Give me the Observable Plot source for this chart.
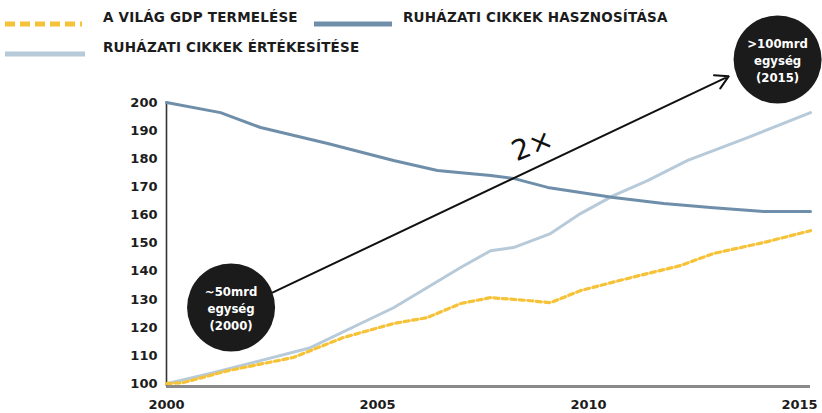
<!DOCTYPE html>
<html><head><meta charset="utf-8">
<script src="https://cdn.jsdelivr.net/npm/d3@7"></script>
<script src="https://cdn.jsdelivr.net/npm/@observablehq/plot@0.6"></script>
<style>
body{margin:0;background:#fff;font-family:"DejaVu Sans",sans-serif;}
#wrap{position:relative;width:822px;height:413px;overflow:hidden;}
#legend{position:absolute;left:0;top:0;width:822px;height:60px;}
.sw{position:absolute;}
.lt{position:absolute;font-family:"DejaVu Sans",sans-serif;font-weight:700;font-size:13.5px;letter-spacing:0.2px;color:#1c1c1c;line-height:18px;white-space:nowrap;}
</style></head><body>
<div id="wrap"><div id="chart"></div><div id="legend"></div></div>
<script>
// ---- data ----
const gdpYears   = [2000, 2000.4, 2001.45, 2003.0, 2004.19, 2005.38, 2006.18, 2006.97, 2007.68, 2008.63, 2009.1, 2009.81, 2011.0, 2012.18, 2012.96, 2014.15, 2015.26];
const gdpValues  = [100, 100.4, 104.6, 109.3, 116.4, 121.4, 123.5, 128.5, 130.6, 129.5, 128.8, 133.1, 137.7, 142.0, 146.3, 150.2, 154.4];
const useYears   = [2000, 2001.28, 2002.23, 2003.82, 2005.38, 2006.42, 2006.73, 2007.68, 2008.22, 2009.03, 2010.59, 2011.78, 2012.96, 2014.15, 2015.26];
const useValues  = [200, 196.4, 191.1, 185.4, 179.4, 175.8, 175.4, 174.0, 173.0, 169.8, 166.2, 164.1, 162.6, 161.2, 161.2];
const salesYears = [2000, 2001.04, 2002.23, 2003.41, 2004.6, 2005.38, 2006.18, 2006.97, 2007.68, 2008.22, 2009.1, 2009.81, 2010.59, 2011.4, 2012.35, 2013.77, 2015.26];
const salesValues= [100, 103.6, 108.2, 112.8, 121.4, 127.0, 134.2, 141.3, 147.3, 148.4, 153.4, 160.5, 166.9, 172.2, 179.4, 187.5, 196.4];

const seriesNames  = ["A VILÁG GDP TERMELÉSE", "RUHÁZATI CIKKEK HASZNOSÍTÁSA", "RUHÁZATI CIKKEK ÉRTÉKESÍTÉSE"];
const seriesColors = ["#f6c238", "#6f8ea9", "#b7cad9"];

const yTicks = [100, 110, 120, 130, 140, 150, 160, 170, 180, 190, 200];
const xTicks = [2000, 2005, 2010, 2015];

const bubbleYears  = [2001.53, 2014.48];
const bubbleValues = [127.1, 215.3];
const bubbleLabels = ["~50mrd\negység\n(2000)", ">100mrd\negység\n(2015)"];

const arrowFrom = [2002.51, 132.4];
const arrowTo   = [2013.32, 209.3];
const noteText  = "2×";
const notePos   = [2008.67, 184.7];

// ---- build ----
const toRows = (xs, ys) => xs.map((x, i) => ({x, y: ys[i]}));
const gdp = toRows(gdpYears, gdpValues);
const use = toRows(useYears, useValues);
const sales = toRows(salesYears, salesValues);
const bubbles = bubbleYears.map((x, i) => ({x, y: bubbleValues[i], label: bubbleLabels[i]}));

const chart = Plot.plot({
  width: 822, height: 413,
  marginLeft: 166, marginRight: 12, marginTop: 102, marginBottom: 27,
  style: {fontFamily: "'DejaVu Sans', sans-serif", fontSize: "13px", fontWeight: 700, color: "#1c1c1c", overflow: "visible"},
  x: {domain: [2000, 2015.26]},
  y: {domain: [99, 200]},
  marks: [
    Plot.axisY({ticks: yTicks, tickSize: 0, tickPadding: 9, label: null, fontWeight: 700, fontSize: 13}),
    Plot.axisX({ticks: xTicks, tickSize: 0, tickPadding: 13, tickFormat: d => String(d), label: null, fontWeight: 700, fontSize: 13}),
    Plot.ruleY([99], {x1: 2000, x2: 2015.26, stroke: "#8a8a8a", strokeWidth: 3}),
    Plot.ruleX([2000], {y1: 99, y2: 200, stroke: "#333", strokeWidth: 1.6}),
    Plot.line(sales, {x: "x", y: "y", stroke: seriesColors[2], strokeWidth: 3}),
    Plot.line(use, {x: "x", y: "y", stroke: seriesColors[1], strokeWidth: 3}),
    Plot.line(gdp, {x: "x", y: "y", stroke: seriesColors[0], strokeWidth: 3.2, strokeDasharray: "5,3.5"}),
    Plot.arrow([{x1: arrowFrom[0], y1: arrowFrom[1], x2: arrowTo[0], y2: arrowTo[1]}], {x1: "x1", y1: "y1", x2: "x2", y2: "y2", stroke: "#111", strokeWidth: 2, headLength: 11}),
    Plot.dot(bubbles, {x: "x", y: "y", r: 44, fill: "#1b1b1b"}),
    Plot.text(bubbles, {x: "x", y: "y", text: "label", fill: "#fff", fontSize: 13, fontWeight: 700, lineHeight: 1.3, fontFamily: "'DejaVu Sans Condensed', 'DejaVu Sans', sans-serif"}),
    Plot.text([{x: notePos[0], y: notePos[1], t: noteText}], {x: "x", y: "y", text: "t", rotate: -22, fontSize: 28, fontWeight: 500, fontFamily: "'DejaVu Sans', sans-serif", fill: "#111"})
  ]
});
document.getElementById("chart").appendChild(chart);

// ---- legend ----
const legendLayout = [
  {sx: 5, sw: 77, y: 17, tx: 103},
  {sx: 314, sw: 78, y: 17, tx: 403},
  {sx: 5, sw: 80, y: 47, tx: 103}
];
const leg = document.getElementById("legend");
seriesNames.forEach((name, i) => {
  const L = legendLayout[i];
  const dash = i === 0 ? ' stroke-dasharray="10,5"' : '';
  const sw = document.createElement("div");
  sw.className = "sw";
  sw.style.left = L.sx + "px"; sw.style.top = (L.y - 4) + "px";
  sw.innerHTML = `<svg width="${L.sw}" height="8"><line x1="0" x2="${L.sw}" y1="4" y2="4" stroke="${seriesColors[i]}" stroke-width="5"${dash}/></svg>`;
  leg.appendChild(sw);
  const t = document.createElement("div");
  t.className = "lt";
  t.style.left = L.tx + "px"; t.style.top = (L.y - 9) + "px";
  t.textContent = name;
  leg.appendChild(t);
});
</script>
</body></html>
